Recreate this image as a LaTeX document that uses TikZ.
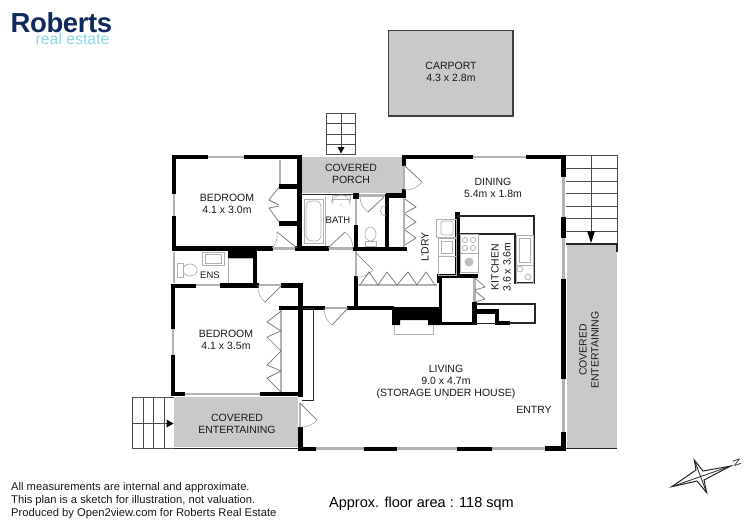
\documentclass[tikz,border=0pt]{standalone}
\usepackage{fontspec}
\setmainfont{Liberation Sans}
\definecolor{areagrey}{HTML}{C9C9C9}
\definecolor{wingrey}{HTML}{B2B2B2}
\definecolor{fixgrey}{HTML}{B0B0B0}
\definecolor{navy}{HTML}{10295C}
\definecolor{aqua}{HTML}{8FD6E6}
\tikzset{
  wall/.style={line width=4.4pt,black,line cap=rect,line join=miter},
  midwall/.style={line width=2.4pt,black,line cap=rect},
  thin wall/.style={line width=1pt,black!85},
  glass/.style={line width=2.6pt,wingrey},
  fix/.style={line width=0.7pt,fixgrey},
  leaf/.style={line width=0.7pt,black!55},
  swing/.style={line width=0.6pt,black!35},
  tread/.style={line width=0.7pt,black!70},
  room/.style={font=\fontsize{10.5}{12}\selectfont,align=center,inner sep=0pt,text=black!90},
}
\newcommand{\dswing}[3]{\draw[leaf] (#1) -- (#2); \draw[swing] (#2) to[bend left=25] (#3);}
\newcommand{\chev}[3]{\draw[leaf] (#1) -- (#2) -- (#3);}
\begin{document}
\begin{tikzpicture}[x=1pt,y=-1pt]
\useasboundingbox (0,0) rectangle (750,531);
\fill[white] (0,0) rectangle (750,531);

% Grey outdoor areas
\filldraw[fill=areagrey,draw=black!75,line width=1.2pt] (388.5,30.5) rectangle (513,116);
\fill[areagrey] (302,157) rectangle (403,193);
\draw[thin wall] (302,194) -- (403,194);
\fill[areagrey] (174,397) rectangle (298,447);
\draw[thin wall] (174,448) -- (300,448);
\fill[areagrey] (566.5,245) rectangle (617,449);
\draw[thin wall] (566,448.5) -- (617,448.5);

% Steps
\draw[tread] (326.5,113) rectangle (355,154);
\foreach \yy in {123,134,144} \draw[tread] (326.5,\yy) -- (355,\yy);
\draw[tread] (341,113) -- (341,150);
\fill[black] (337.5,147) -- (344.5,147) -- (341,153.5) -- cycle;

\draw[tread] (566,155.5) -- (617,155.5) -- (617,243);
\foreach \yy in {168,181,193,206,218,231} \draw[tread] (566,\yy) -- (617,\yy);
\draw[tread] (591,155.5) -- (591,235);
\fill[black] (587,231) -- (595,231) -- (591,243) -- cycle;
\draw[line width=1.3pt,black!85] (566,244) -- (617,244) -- (617,252);

\draw[tread] (174,397) -- (132.5,397) -- (132.5,448) -- (174,448);
\foreach \xx in {143,153,164} \draw[tread] (\xx,397) -- (\xx,448);
\draw[tread] (132.5,423) -- (168,423);
\fill[black] (166.5,419.5) -- (166.5,427.5) -- (173.5,423.5) -- cycle;

% Windows and door openings
\foreach \a/\b in {207/245,472/527}
  \draw[glass] (\a,157) -- (\b,157);
\draw[glass] (174,193) -- (174,217);
\draw[glass] (174,252) -- (174,283);
\draw[glass] (173,328) -- (173,356);
\foreach \a/\b in {195/221,258/282}
  \draw[glass] (\a,285) -- (\b,285);
\draw[glass] (324,308) -- (348,308);
\draw[glass] (272,248.5) -- (297,248.5);
\draw[glass] (328,248.5) -- (354,248.5);
\draw[glass] (358,195.5) -- (385,195.5);
\draw[glass] (356,198) -- (356,225);
\draw[glass] (356,250) -- (356,277);
\draw[glass] (404,164) -- (404,190);
\draw[glass] (404,196) -- (404,247);
\draw[glass] (300,403) -- (300,427);
\draw[glass] (281,310) -- (281,393);
\draw[glass] (280,160) -- (280,185);
\draw[glass] (358,285) -- (437,285);
\draw[glass] (474.5,277) -- (474.5,302);
\draw[glass] (563.5,176) -- (563.5,218);
\draw[glass] (563.5,237) -- (563.5,279);
\draw[glass] (563.5,378) -- (563.5,433);
\draw[glass] (183,394) -- (261,394);
\foreach \a/\b in {315/365,396/458,491/546}
  \draw[glass] (\a,448.5) -- (\b,448.5);
\draw[line width=1pt,wingrey] (325,197) -- (325,247);
\draw[line width=1pt,wingrey] (394,325) -- (394,334) -- (433,334) -- (433,325);

% Thick walls
\draw[wall] (206,157) -- (174,157) -- (174,192);
\draw[wall] (246,157) -- (299.5,157) -- (299.5,248);
\draw[wall] (174,218) -- (174,248.5) -- (271,248.5);
\draw[wall] (297,248.5) -- (327,248.5);
\draw[wall] (281,186.5) -- (298,186.5);
\draw[wall] (281,223.5) -- (298,223.5);
\fill[black] (228,249) rectangle (257,258);
\draw[wall] (255,250) -- (255,285);
\draw[wall] (173,286) -- (173,327);
\draw[wall] (173,286) -- (194,286);
\draw[wall] (222,285.5) -- (257,285.5);
\draw[wall] (283,285.5) -- (300.5,285.5) -- (300.5,395);
\draw[wall] (173,357) -- (173,394) -- (183,394);
\draw[wall] (262,394) -- (298,394);
\draw[wall] (281,308) -- (323,308);
\draw[wall] (349,308) -- (392,308);
\draw[wall] (300.5,429) -- (300.5,449) -- (314,449);
\draw[wall] (355,249) -- (405,249);
\draw[wall] (356,227) -- (356,248);
\draw[wall] (356,278) -- (356,307);
\fill[black] (352.5,193) rectangle (359,199);
\draw[wall] (387,196) -- (387,248);
\draw[wall] (388,195.5) -- (404,195.5) -- (404,191);
\draw[wall] (404,164) -- (404,157) -- (471,157);
\draw[wall] (528,157) -- (563.5,157) -- (563.5,175);
\draw[wall] (563.5,219) -- (563.5,236);
\draw[wall] (563.5,281) -- (563.5,377);
\draw[wall] (563.5,434) -- (563.5,448.5) -- (547,448.5);
\draw[wall] (366,449) -- (395,449);
\draw[wall] (459,449) -- (490,449);
\draw[wall] (457.5,214) -- (457.5,274);
\draw[wall] (439,276) -- (476,276);
\draw[wall] (439,276) -- (439,281);
\draw[midwall] (440.5,277) -- (440.5,323);
\draw[midwall] (440,323.5) -- (476,323.5);
\draw[wall] (474.5,304) -- (474.5,323);
\draw[wall] (477,311.5) -- (497,311.5) -- (497,322);
\draw[wall] (497,323) -- (508,323);
\fill[black] (392,307) -- (440,307) -- (440,325) -- (428,325) -- (428,320) -- (400,320) -- (400,325) -- (392,325) -- cycle;

% Thin black outlines
\draw[thin wall] (302,308) -- (313.3,308) -- (313.3,400) -- (302,400);
\draw[line width=1.2pt,black!85] (457,216) -- (534,216) -- (534,283) -- (515,283) -- (515,234) -- (459,234);
\draw[line width=1.2pt,black!85] (476,304) -- (535,304) -- (535,323) -- (508,323);
\draw[thin wall] (476,323.5) -- (497,323.5);

% Door leaves
\dswing{297,248}{277,232}{272,248}
\dswing{328,248}{345,232}{353,248}
\dswing{282,285}{265,302}{258,285}
\dswing{348,308}{332,325}{324,308}
\dswing{300,403}{317,420}{300,427}
\dswing{384,197}{368,212}{360,197}
\dswing{404,165}{422,182}{404,190}
\dswing{356,253}{373,270}{356,277}

% Bifold closet doors
\chev{279,187}{269,200}{279,205}
\chev{279,206}{269,208}{279,222}
\chev{281,311}{267,322}{281,331}
\chev{281,331}{267,337}{281,351}
\chev{281,351}{267,365}{281,371}
\chev{281,371}{267,378}{281,392}
\chev{405,199}{416,207}{405,213}
\chev{405,214}{416,222}{405,229}
\chev{405,230}{416,238}{405,245}
\chev{360,285}{369,272}{378,285}
\chev{378,285}{387,272}{397,285}
\chev{397,285}{408,272}{417,285}
\chev{417,285}{426,272}{435,285}
\chev{475,278}{485,287}{475,290}
\chev{475,291}{485,299}{475,302}

% Bathroom fixtures
\draw[fix] (304,199) rectangle (323,243);
\draw[fix,rounded corners=5pt] (306,201) rectangle (321,241);
\draw[fix] (332,195) rectangle (350,199);
\draw[fix] (332,199) -- (332,204) arc[start angle=180,end angle=360,x radius=9,y radius=9] -- (350,199);
\fill[black!45] (341,205) circle (0.7pt);
\draw[fix] (365,241) rectangle (376,246);
\draw[fix] (370.5,234) ellipse (5.5 and 7);
\draw[fix] (386,216) arc[start angle=90,end angle=270,radius=5.5];

% Ensuite fixtures
\draw[fix] (177,263) rectangle (183,277);
\draw[fix] (190,270) ellipse (7 and 6);
\draw[fix] (202,252) rectangle (224,265);
\draw[fix] (205,254) rectangle (221,263);
\draw[fix] (228,258) -- (253,258);
\draw[fix] (228,258) -- (228,283);

% Laundry and kitchen fixtures
\draw[fix] (436,219) rectangle (456,237);
\draw[fix,rounded corners=2pt] (441,221) rectangle (453,235);
\draw[fix] (438,238) rectangle (456,256);
\draw[fix] (441,241) rectangle (452,253);
\draw[fix] (438,256) rectangle (456,275);
\draw[fix] (460,234) rectangle (478,253);
\foreach \xx/\yy in {465/240,473/240,465/248,473/248} \draw[fix] (\xx,\yy) circle (2.6);
\draw[fix] (460,253) rectangle (478,272);
\fill[black!25] (469,262) circle (4.5);
\draw[fix] (516,235) rectangle (533,265);
\draw[fix] (519,238) rectangle (530,262);
\draw[fix] (516,265) rectangle (533,283);
\draw[fix] (520,269) circle (3);
\draw[fix] (528,277) circle (3);

% Compass
\draw[line width=1pt,black!85,line join=miter]
  (671.7,486.7) -- (696,470) -- (694.3,460) -- (703,471) -- (730.7,466) -- (704,480) -- (706.7,492.7) -- (697,481) -- cycle;
\draw[line width=0.8pt,black!85] (671.7,486.7) -- (730.7,466) (694.3,460) -- (706.7,492.7);
\node[rotate=-70,inner sep=0pt,font=\fontsize{10}{12}\selectfont,text=black!85] (northmark) at (737,463) {N};

% Labels
\node[room] (carport) at (451,71.5) {CARPORT\\4.3 x 2.8m};
\node[room] (porch) at (351,173.5) {COVERED\\PORCH};
\node[room] (bed1) at (227,204) {BEDROOM\\4.1 x 3.0m};
\node[room,font=\fontsize{9.5}{11}\selectfont] (bath) at (338,220) {BATH};
\node[room,font=\fontsize{9.5}{11}\selectfont] (ens) at (210,275) {ENS};
\node[room] (dining) at (493,188) {DINING\\5.4m x 1.8m};
\node[room,rotate=90] (laundry) at (425,247) {L'DRY};
\node[room,rotate=90] (kitchen) at (501,267) {KITCHEN\\3.6 x 3.6m};
\node[room] (bed2) at (226,340) {BEDROOM\\4.1 x 3.5m};
\node[room] (ent1) at (237,424) {COVERED\\ENTERTAINING};
\node[room] (living) at (446,382) {LIVING\\9.0 x 4.7m\\(STORAGE UNDER HOUSE)};
\node[room] (entry) at (534,410) {ENTRY};
\node[room,rotate=90] (ent2) at (589,350) {COVERED\\ENTERTAINING};

% Logo
\node[anchor=base west,inner sep=0pt,text=navy,font=\fontsize{27.5}{30}\bfseries\selectfont] (logo) at (10.5,32) {\addfontfeature{LetterSpace=-1.5}Roberts};
\node[anchor=base west,inner sep=0pt,text=aqua,font=\fontsize{15.8}{18}\selectfont] (logosub) at (35.5,44) {real estate};

% Footer
\node[anchor=north west,inner sep=0pt,align=left,text=black!90,font=\fontsize{11.2}{13.3}\selectfont] (notes) at (11,482) {All measurements are internal and approximate.\\This plan is a sketch for illustration, not valuation.\\Produced by Open2view.com for Roberts Real Estate};
\node[anchor=base west,inner sep=0pt,text=black,font=\fontsize{14.5}{17}\selectfont] (area) at (329,507) {Approx. floor area : 118 sqm};
\end{tikzpicture}
\end{document}
